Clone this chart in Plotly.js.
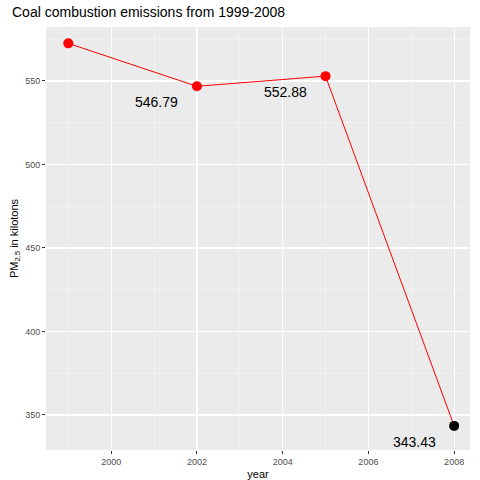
<!DOCTYPE html>
<html>
<head>
<meta charset="utf-8">
<script src="https://cdn.plot.ly/plotly-3.0.1.min.js"></script>
<style>html,body{margin:0;padding:0;background:#fff}#chart{width:480px;height:480px}</style>
</head>
<body>
<div id="chart"></div>
<script>
const years = [1999, 2002, 2005, 2008];
const emissions = [572.5, 546.79, 552.88, 343.43];
const pointColors = ["#ff0000", "#ff0000", "#ff0000", "#000000"];
const labelIndex = [1, 2, 3];

const lineTrace = {
  x: years,
  y: emissions,
  mode: "lines+markers",
  type: "scatter",
  line: { color: "#ff0000", width: 1 },
  marker: { color: pointColors, size: 10 },
  hoverinfo: "x+y",
};

const annotations = labelIndex.map((i) => ({
  x: years[i],
  y: emissions[i],
  text: emissions[i].toFixed(2),
  showarrow: false,
  xshift: -40,
  yshift: -16,
  font: { family: "Liberation Sans, Arial", size: 14, color: "#000" },
}));

const layout = {
  width: 480,
  height: 480,
  paper_bgcolor: "#fff",
  plot_bgcolor: "#ebebeb",
  margin: { l: 46, r: 10, t: 27, b: 30 },
  showlegend: false,
  font: { family: "Liberation Sans, Arial" },
  title: {
    text: "Coal combustion emissions from 1999-2008",
    x: 0.025, xanchor: "left", y: 0.985, yanchor: "top",
    font: { size: 14, color: "#000" },
  },
  xaxis: {
    range: [1998.48, 2008.37],
    tickvals: [2000, 2002, 2004, 2006, 2008],
    gridcolor: "#fff", gridwidth: 1.2,
    minor: { tickvals: [1999, 2001, 2003, 2005, 2007], showgrid: true, gridcolor: "#f5f5f5", gridwidth: 0.6 },
    zeroline: false,
    ticks: "outside", ticklen: 3, tickcolor: "#333",
    tickfont: { size: 9, color: "#4d4d4d" },
    title: { text: "year", font: { size: 11, color: "#000" }, standoff: 4 },
  },
  yaxis: {
    range: [329, 582.3],
    tickvals: [350, 400, 450, 500, 550],
    gridcolor: "#fff", gridwidth: 1.2,
    minor: { tickvals: [375, 425, 475, 525, 575], showgrid: true, gridcolor: "#f5f5f5", gridwidth: 0.6 },
    zeroline: false,
    ticks: "outside", ticklen: 3, tickcolor: "#333",
    tickfont: { size: 9, color: "#4d4d4d" },
    title: { text: "PM<sub>2.5</sub> in kilotons", font: { size: 11, color: "#000" }, standoff: 4 },
  },
  annotations: annotations,
};

Plotly.newPlot("chart", [lineTrace], layout, { displayModeBar: false, staticPlot: true });
</script>
</body>
</html>
